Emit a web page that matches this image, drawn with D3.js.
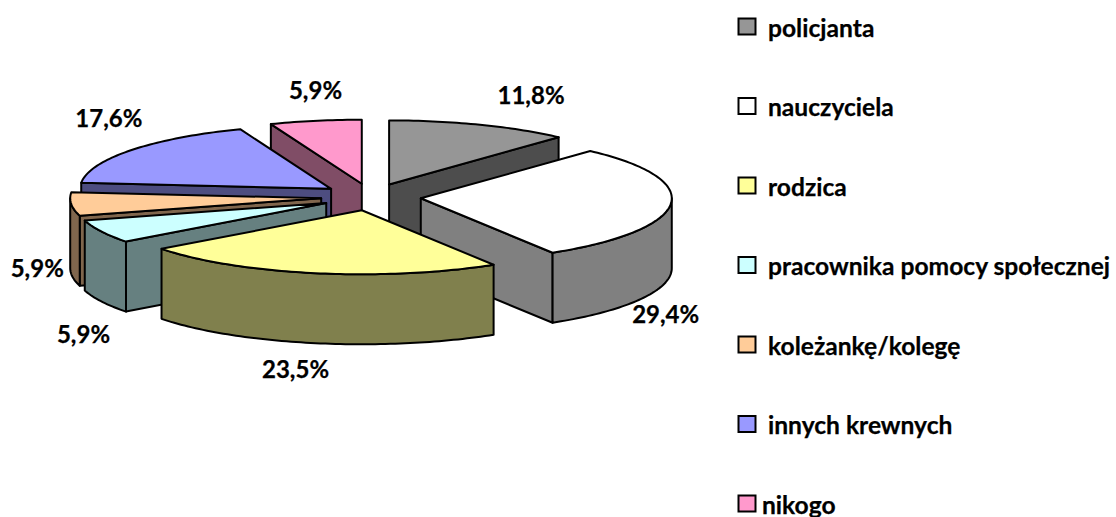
<!DOCTYPE html>
<html><head><meta charset="utf-8">
<script src="https://cdn.jsdelivr.net/npm/d3@7"></script>
<style>html,body{margin:0;padding:0;background:#fff}svg{display:block}text{font-family:Lato,"Open Sans",sans-serif;font-weight:700;fill:#000;stroke:#000;stroke-width:.25px}</style>
</head><body><svg id="c" width="1116" height="517"></svg>
<script>
const categories = ["policjanta","nauczyciela","rodzica","pracownika pomocy społecznej","koleżankę/kolegę","innych krewnych","nikogo"];
const values = [11.8,29.4,23.5,5.9,5.9,17.6,5.9];
const topColors = ["#969696","#ffffff","#ffff99","#ccffff","#ffcc99","#9999ff","#ff99cc"];
const sideColors = ["#4d4d4d","#808080","#80804d","#668080","#80664d","#4d4d80","#804d66"];
const drawOrder = [6,5,0,4,3,1,2];
const labelDx = [51,-5,-20,-18,-34,-22,0];
const labelDy = [-30,109,95,102,63,-33,-31];

const svg = d3.select("#c");
const fmt = v => v.toFixed(1).replace(".", ",") + "%";
const cx = 371, cy = 197, rx = 251, ry = 64, depth = 70, explodeX = 50, explodeY = 13.5, TAU = 2*Math.PI;
const sx = d3.scaleLinear().domain([-1,1]).range([-rx,rx]);
const sy = d3.scaleLinear().domain([-1,1]).range([-ry,ry]);
const arcs = d3.pie().value(d=>d).sort(null)(values);
const line = d3.line().curve(d3.curveLinear);

arcs.forEach(a=>{
  const mid=(a.startAngle+a.endAngle)/2;
  a.ax = cx+explodeX*Math.sin(mid);
  a.ay = cy-explodeY*Math.cos(mid);
});
const pt=(a,t,dz=0)=>[a.ax+sx(Math.sin(t)), a.ay+sy(-Math.cos(t))+dz];
const samples=(t0,t1)=>{const n=Math.max(2,Math.ceil((t1-t0)/0.02));return d3.range(n+1).map(i=>t0+(t1-t0)*i/n);};

const g=svg.append("g").attr("stroke","#000").attr("stroke-width",2).attr("stroke-linejoin","round");
const draw=(pts,fill)=>g.append("path").attr("d",line(pts)+"Z").attr("fill",fill);

drawOrder.forEach(i=>{
  const a=arcs[i], side=sideColors[i];
  const radial=t=>draw([[a.ax,a.ay],pt(a,t),pt(a,t,depth),[a.ax,a.ay+depth]],side);
  if(Math.sin(a.startAngle)<-1e-6) radial(a.startAngle);
  if(Math.sin(a.endAngle)>1e-6) radial(a.endAngle);
  const t0=Math.max(a.startAngle,TAU/4), t1=Math.min(a.endAngle,3*TAU/4);
  if(t1>t0){
    const ts=samples(t0,t1);
    draw([...ts.map(t=>pt(a,t)),...ts.slice().reverse().map(t=>pt(a,t,depth))],side);
  }
  draw([[a.ax,a.ay],...samples(a.startAngle,a.endAngle).map(t=>pt(a,t))],topColors[i]);
});

arcs.forEach((a,i)=>{
  const p=pt(a,(a.startAngle+a.endAngle)/2);
  svg.append("text").attr("x",p[0]+labelDx[i]).attr("y",p[1]+labelDy[i])
    .attr("text-anchor","middle").attr("dominant-baseline","central").attr("font-size",24).text(fmt(values[i]));
});

const ly=d3.scalePoint().domain(categories).range([27,504]);
categories.forEach((c,i)=>{
  const y=ly(c);
  svg.append("rect").attr("x",738.5).attr("y",y-8.5).attr("width",17).attr("height",16)
    .attr("fill",topColors[i]).attr("stroke","#000").attr("stroke-width",2);
  svg.append("text").attr("x",i===6?762:768).attr("y",y).attr("dominant-baseline","central").attr("font-size",24.6).text(c);
});
</script></body></html>
